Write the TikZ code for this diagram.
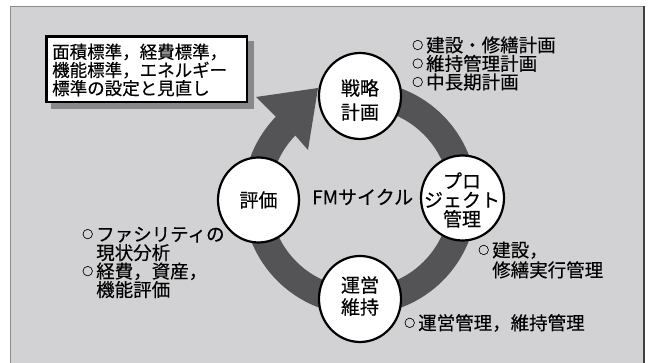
\documentclass[tikz,border=0pt]{standalone}
\usepackage{fontspec}
\setmainfont{Noto Sans CJK JP}[FakeBold=0.3]
\usetikzlibrary{shapes.geometric}
\definecolor{bgray}{RGB}{210,210,212}
\definecolor{ringgray}{RGB}{84,84,86}
\definecolor{shadowgray}{RGB}{136,136,138}
\definecolor{framegray}{RGB}{140,140,142}
\newcommand\mymk{\makebox[14pt][l]{\raisebox{2.8pt}{\fontsize{11}{11}\selectfont ○}}}
\newcommand\myind{\hspace*{14pt}}
\begin{document}
\begin{tikzpicture}[x=1pt,y=1pt,
  stage/.style={ellipse, draw=black, line width=2.2pt, fill=white, inner sep=0pt},
  stagetext/.style={align=center, inner sep=0pt, font=\fontsize{19}{#1}\selectfont},
  note/.style={align=left, anchor=west, inner sep=0pt, font=\fontsize{18.5}{18.5}\selectfont},
  ring/.style={draw=ringgray, line width=27pt},
  ]
\useasboundingbox (0,0) rectangle (651,363);
\fill[white] (0,0) rectangle (651,363);
\draw[framegray, fill=bgray, line width=0.8pt] (10.5,-5) rectangle (643.5,356.5);
\draw[black!75, line width=1.6pt] (644,-5) -- (644,357);
% cycle ring
\coordinate (rc) at (360,165);
\draw[ring] ([shift={(90:103.5)}]rc) arc[start angle=90, end angle=-225, radius=103.5];
\fill[ringgray] ([shift={(136:117)}]rc) -- (256,266) -- (318,275) -- (308,213) -- ([shift={(136:90)}]rc) -- cycle;
% stages
\node[stage, minimum width=82pt, minimum height=86pt] (strat) at (360,267) {};
\node[stage, minimum width=81pt, minimum height=85pt] (eval) at (258.5,163) {};
\node[stage, minimum width=83pt, minimum height=85pt] (proj) at (462.5,165) {};
\node[stage, minimum width=82pt, minimum height=86pt] (ops) at (360,64) {};
\node[stagetext=24] (strat-t) at (360,263) {戦略\\計画};
\node[stagetext=19] (eval-t) at (258.5,163) {評価};
\node[stagetext=19] (proj-t) at (462,163) {プロ\\ジェクト\\管理};
\node[stagetext=22] (ops-t) at (360,67) {運営\\維持};
\node[inner sep=0pt, anchor=west, font=\fontsize{19}{19}\selectfont] (fm) at (312,166) {FMサイクル};
% notes
\node[note] (n1) at (412,299.5) {\mymk 建設・修繕計画\\\mymk 維持管理計画\\\mymk 中長期計画};
\node[note] (n2) at (82,100.5) {\mymk ファシリティの\\\myind 現状分析\\\mymk 経費，資産，\\\myind 機能評価};
\node[note, font=\fontsize{18.5}{20}\selectfont] (n3) at (478,103) {\mymk 建設，\\\myind 修繕実行管理};
\node[note] (n4) at (404,40) {\mymk 運営管理，維持管理};
% standards box
\fill[shadowgray] (51,254) rectangle (254,322);
\node[draw=black, line width=2.5pt, fill=white, anchor=north west, inner sep=0pt,
  minimum width=200.5pt, minimum height=65.5pt] (stdbox) at (45.25,327.75) {};
\node[anchor=west, inner sep=0pt, align=left, font=\fontsize{17.5}{18.2}\selectfont] (stdtext) at (52,293)
  {面積標準，経費標準，\\機能標準，エネルギー\\標準の設定と見直し};
\end{tikzpicture}
\end{document}
